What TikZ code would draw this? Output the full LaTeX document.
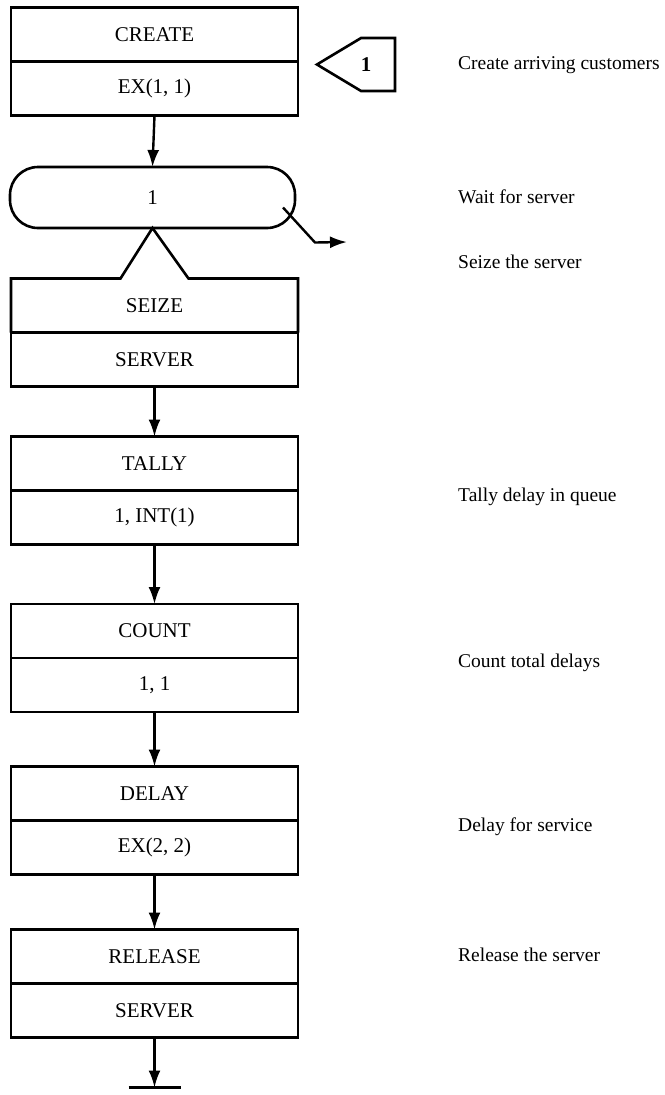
\documentclass[tikz,border=0pt]{standalone}
\usepackage{fontspec}
\setmainfont{Liberation Serif}
\usetikzlibrary{positioning,calc,arrows.meta,shapes.symbols}
\tikzset{
	cell/.style={
			minimum width=287pt, minimum height=54pt,
			outer sep=0pt, inner sep=0pt, font=\fontsize{21}{25}\selectfont
		},
	block/.style={cell, draw, line width=2.6pt},
	flow/.style={line width=2.4pt, -{Latex[length=17pt,width=12pt]}},
	note/.style={anchor=west, inner sep=0pt, font=\fontsize{19.5}{24}\selectfont}
}

\begin{document}
\begin{tikzpicture}[x=1pt, y=1pt]
			\useasboundingbox (0, 0) rectangle (664, -1095);

			% blocks, one keyword part over one operand part
			\node[block] (create) at (154.5, -34.5) {CREATE};
			\node[block, below=0pt of create] (createarg) {EX(1, 1)};

			\node[block, rounded corners=28pt, minimum width=285pt, minimum height=61pt] (queue) at (152.5, -197.5) {1};

			\node[cell] (seize) at (154.5, -305.5) {SEIZE};
			\node[block, below=0pt of seize] (seizearg) {SERVER};

			\node[block] (tally) at (154.5, -463.5) {TALLY};
			\node[block, below=0pt of tally] (tallyarg) {1, INT(1)};

			\node[block] (count) at (154.5, -631) {COUNT};
			\node[block, below=0pt of count] (countarg) {1, 1};

			\node[block] (delay) at (154.5, -793.5) {DELAY};
			\node[block, below=0pt of delay] (delayarg) {EX(2, 2)};

			\node[block] (release) at (154.5, -956.5) {RELEASE};
			\node[block, below=0pt of release] (releasearg) {SERVER};

			% station marker beside CREATE
			\node[draw, line width=2.6pt, signal, signal to=west, signal pointer angle=62,
				minimum width=78pt, minimum height=53pt, inner sep=0pt] (arrive) at (378, -64.5) {};
			\node[font=\fontsize{21}{25}\selectfont\bfseries] (arrivenum) at ($(arrive)+(-12, 0)$) {1};

			% SEIZE outline with its hook up to the queue
			\draw[line width=2.6pt] (seize.south west) -- (seize.north west)
				-- ($(seize.north)+(-34, 0)$) -- (queue.south)
				-- ($(seize.north)+(34, 0)$) -- (seize.north east) -- (seize.south east);

			% flow between the blocks
			\draw[flow] (createarg.south) -- (queue.north);
			\draw[flow] (seizearg.south) -- (tally.north);
			\draw[flow] (tallyarg.south) -- (count.north);
			\draw[flow] (countarg.south) -- (delay.north);
			\draw[flow] (delayarg.south) -- (release.north);

			% balking out of the queue
			\coordinate (balk) at (347, -242);
			\draw[flow] ($(queue.east)+(-12, -10)$) -- ++(32, -35) -- (balk);

			% leaving the model
			\coordinate[below=50pt of releasearg] (dispose);
			\draw[flow] (releasearg.south) -- (dispose);
			\draw[line width=3pt] ($(dispose)+(-26, 0)$) -- ($(dispose)+(26, 0)$);

			% comments on the right
			\node[note] (createnote)  at (458, -65)  {Create arriving customers};
			\node[note] (waitnote)    at (458, -197) {Wait for server};
			\node[note] (seizenote)   at (458, -262) {Seize the server};
			\node[note] (tallynote)   at (458, -497) {Tally delay in queue};
			\node[note] (countnote)   at (458, -663) {Count total delays};
			\node[note] (delaynote)   at (458, -827) {Delay for service};
			\node[note] (releasenote) at (458, -955) {Release the server};
		\end{tikzpicture}
\end{document}
